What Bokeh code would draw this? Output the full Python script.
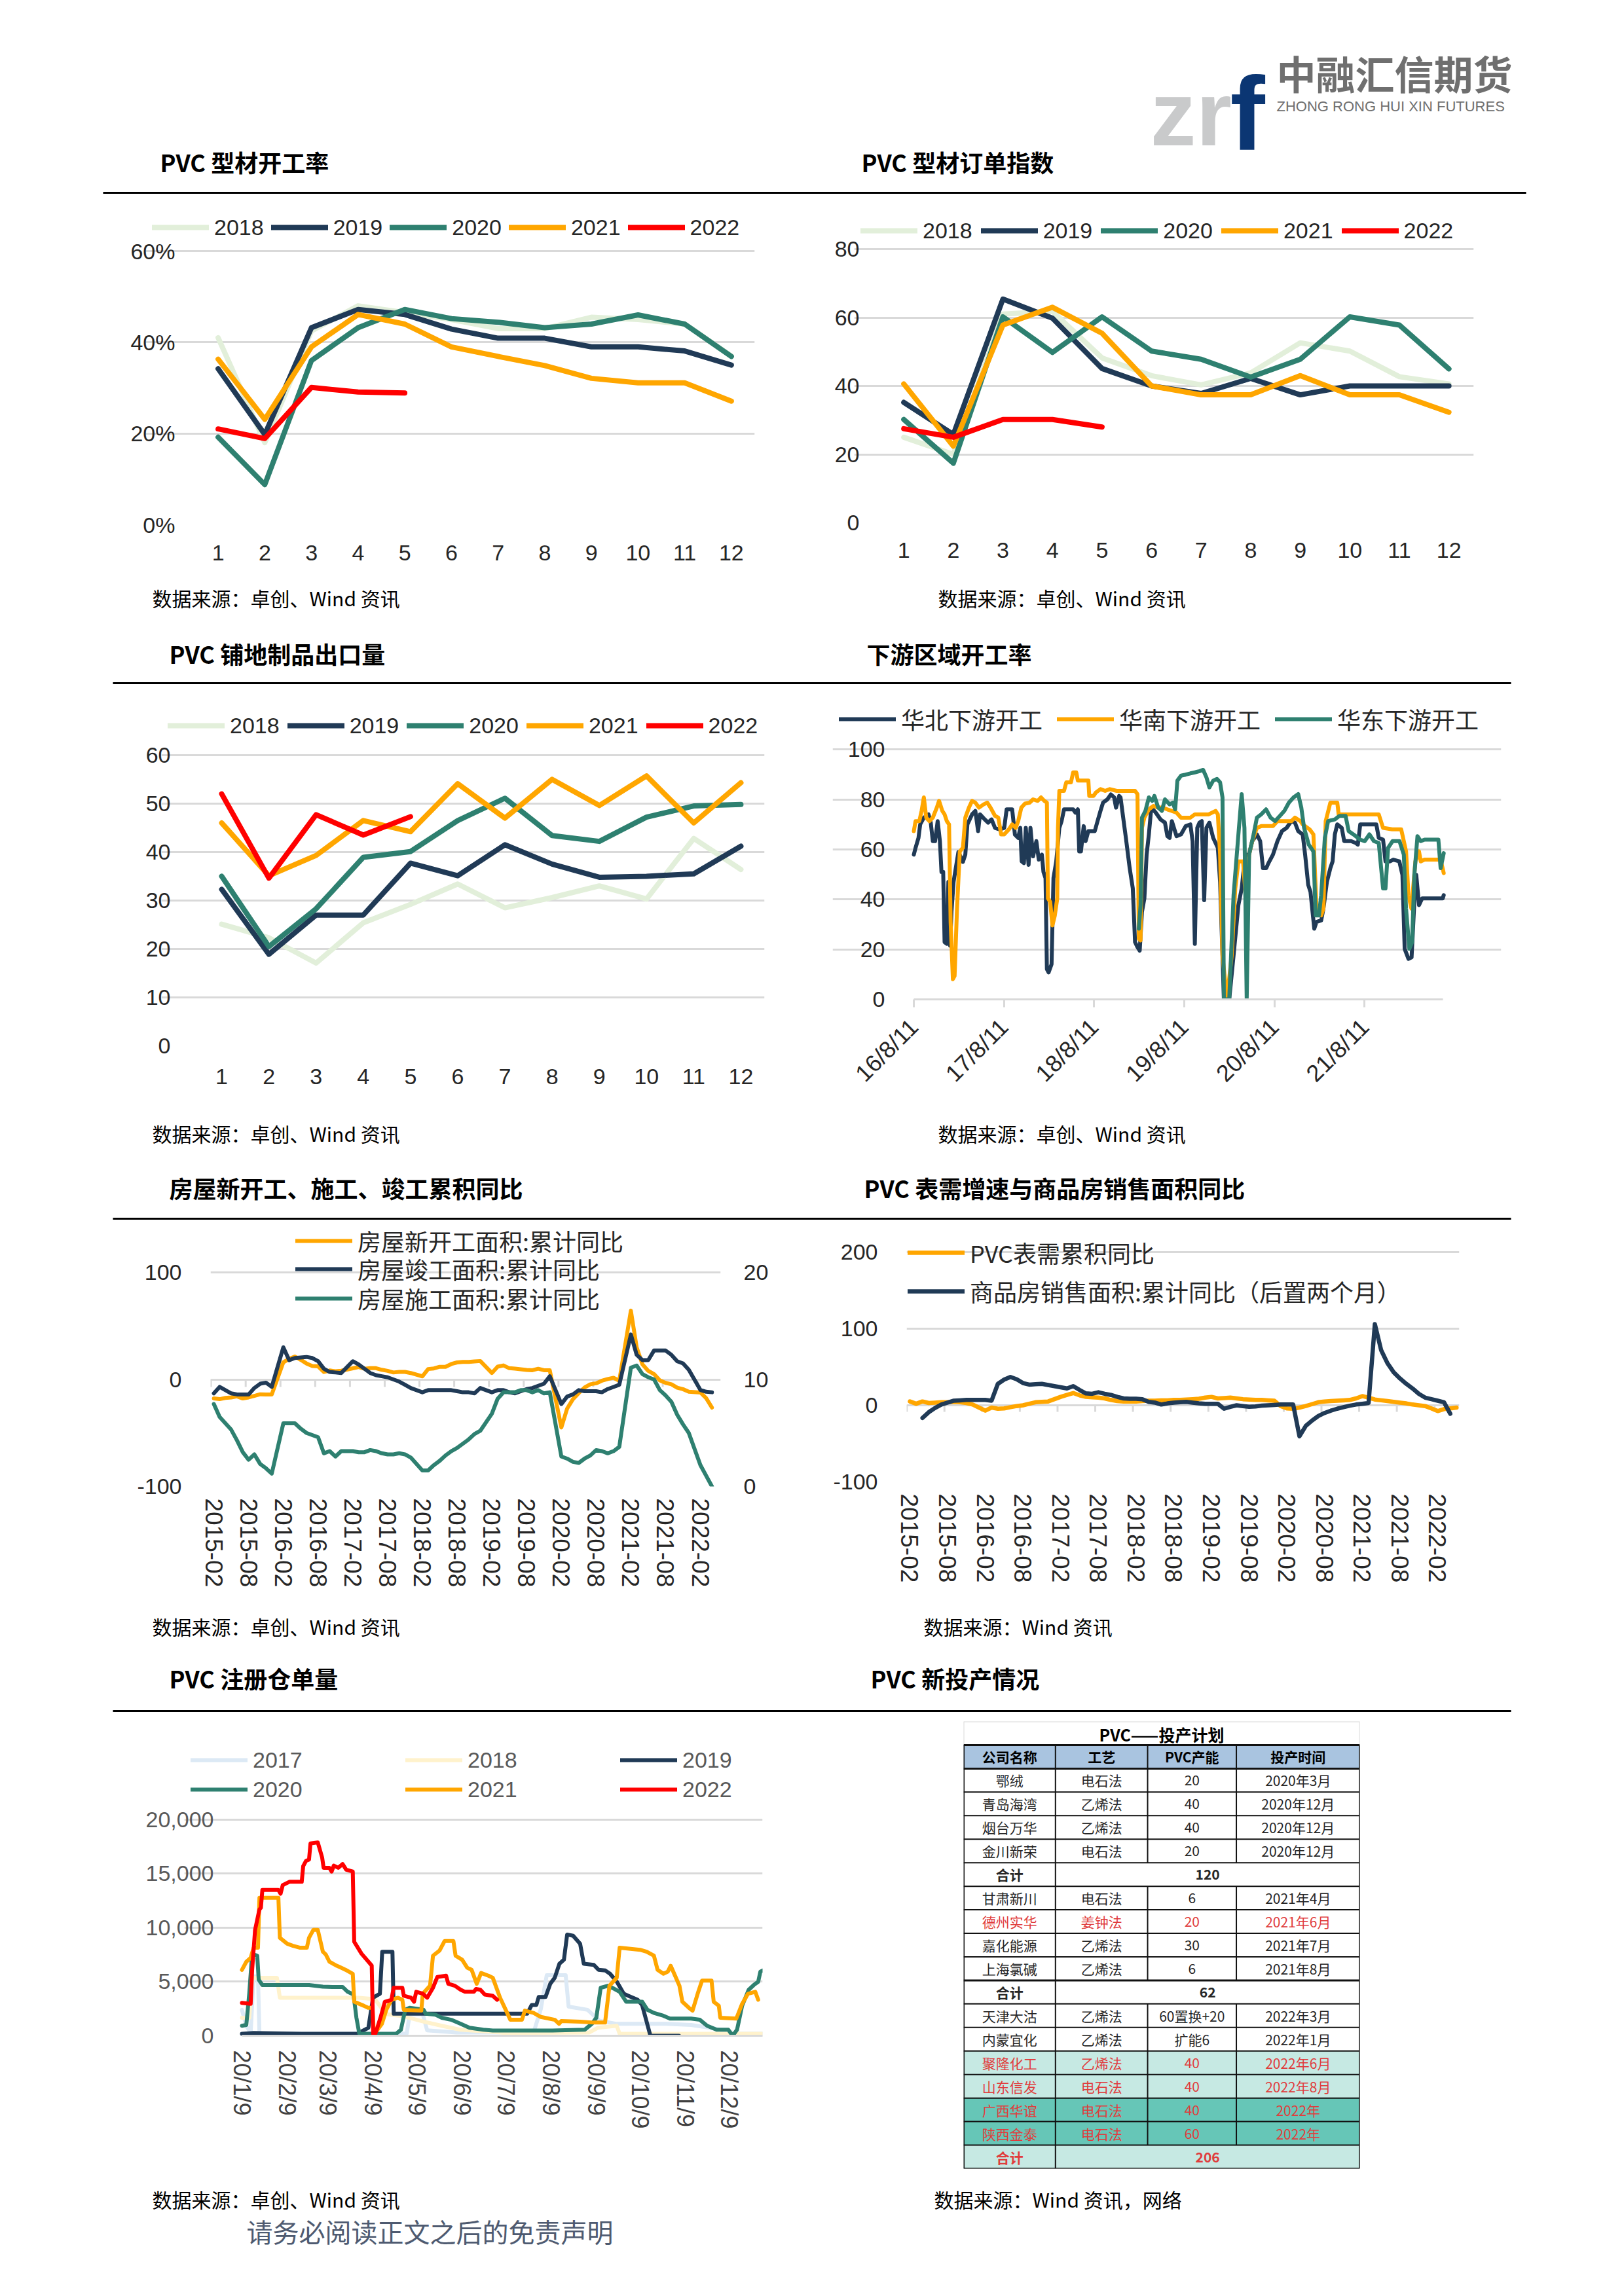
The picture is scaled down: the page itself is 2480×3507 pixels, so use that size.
import math
from bokeh.plotting import figure
from bokeh.layouts import column, row
from bokeh.models import Range1d, FixedTicker, Legend, LegendItem, LinearAxis, NumeralTickFormatter
from bokeh.core.properties import value
from bokeh.embed import file_html
from bokeh.resources import INLINE

# ---------------------------------------------------------------- data
months = list(range(1, 13))

# PVC 型材开工率 (%)
prof_2018 = [41, 18, 42.5, 48, 46.5, 45, 43, 43, 45.5, 45, 44, 37]
prof_2019 = [34.2, 19.8, 43.2, 47.2, 46.1, 42.9, 40.9, 40.9, 39, 39, 38.1, 35]
prof_2020 = [19.2, 8.8, 36, 43.2, 47.2, 45.2, 44.4, 43.2, 44, 46, 44, 36.9]
prof_2021 = [36.3, 23.1, 39, 46.1, 44, 39, 36.9, 34.9, 32.1, 31.1, 31.1, 27.1]
prof_2022 = [21, 18.9, 30.1, 29.1, 28.9]

# PVC 型材订单指数
order_2018 = [25, 20, 61, 61.8, 48.2, 43, 40.3, 43.8, 52.6, 50.2, 42.7, 40.6]
order_2019 = [35.2, 25.8, 65.4, 59.8, 45.1, 40, 37.8, 42.2, 37.4, 40, 40, 40]
order_2020 = [30.2, 17.4, 60.2, 49.8, 60.2, 50.2, 47.8, 42.6, 47.8, 60.2, 57.8, 45]
order_2021 = [40.6, 22.4, 57.8, 63, 55.4, 40, 37.4, 37.4, 43, 37.4, 37.4, 32.3]
order_2022 = [27.5, 25, 30.2, 30.2, 28]

# PVC 铺地制品出口量
floor_2018 = [25.1, 22.3, 17.1, 25.4, 29.2, 33.4, 28.5, 30.6, 33, 30.3, 42.8, 36.4]
floor_2019 = [32.3, 18.9, 27, 27, 37.7, 35.1, 41.5, 37.5, 34.8, 35, 35.5, 41.2]
floor_2020 = [35, 20.5, 28.3, 38.9, 40.1, 46.5, 51.1, 43.4, 42.2, 47.2, 49.5, 49.8]
floor_2021 = [46, 35.1, 39.3, 46.5, 44.2, 54.1, 47, 55, 49.6, 55.7, 46, 54.3]
floor_2022 = [52, 34.6, 47.7, 43.5, 47.3]

# 下游区域开工率: (weeks since 2016-08-11, value)
north_pts = [(0,57.9),(1,60.6),(2.7,64.6),(3.7,70),(5.8,72.7),(8.5,74),(9.8,70.7),(11,63.3),(12.3,63.3),(13.8,71.3),
 (15.1,63.3),(16,51),(17,51),(17.8,22.9),(19.1,22.2),(20,47),(21,21.5),(21.8,35),(23,47),(25.8,59),(28.4,55),
 (29.8,57.9),(31,70),(33.7,74),(35.6,75.4),(37.2,67.3),(38.3,74),(41,72),(43,70.7),(45,72),(47,68.6),(49.7,68),
 (52.3,68.6),(53.7,76),(56.9,76),(58.5,65.9),(60.4,64.6),(61.6,68.6),(62.4,55.2),(63.7,54.5),(64.8,68.6),(66.4,53.8),
 (67.5,68.6),(69,57.2),(70.9,63.3),(72.3,55.9),(74.1,57.9),(75,51),(76.2,48.5),(77,12.1),(78,10.8),(79.7,14.1),
 (80.8,48.5),(82.4,55.2),(84.2,68.6),(85.5,71.3),(86.9,76),(92.2,76),(93.5,74.7),(94.9,76),(95.7,59.2),(96.7,59.2),
 (98.3,69.3),(99.4,63.3),(101,67.3),(104.7,67.3),(106.3,71.3),(108,75.4),(109.5,78.7),(112,80),(114,82),(115.9,80.8),
 (117,76.7),(118.8,81.4),(119.6,80.8),(121.4,71.3),(122.7,64.6),(124.9,52.5),(126.7,44.4),(128,22.9),(129.4,20.9),
 (130.7,19.5),(132,35),(133.4,40.4),(134.7,57.9),(136,66),(137.4,76.7),(140,74.7),(142.7,72),(145.3,70.7),(146.7,65.3),
 (148,64.6),(149.3,71.3),(152,65.3),(154.6,66),(157.3,69.3),(160,70),(161.3,63.3),(162.6,22.2),(164,68.6),(165.3,70.7),
 (166.6,71.3),(168,39.7),(169.3,68.6),(171,70.7),(173.2,64.6),(175.9,60.6),(177.2,47),(179.4,0),(182.5,0),(185,17.5),
 (187.8,37.7),(189.7,44.4),(191.8,57.9),(193.9,57.9),(195.8,63.3),(198.5,66),(200.4,63.3),(202,52.5),(203.9,52.5),
 (205.2,54.5),(207.8,57.9),(210.4,63.3),(213,67.3),(215.7,68.6),(218.4,71.3),(220.5,70.7),(222.4,67.3),(225,66),
 (226.4,57.9),(228.2,45.8),(229.5,43),(231.7,28.3),(233,31),(235.7,31.6),(237,36.3),(239,47),(241,52.5),(242.3,55.2),
 (243.6,66),(245,70),(247.6,68.6),(249,63.3),(253,63.3),(255.6,62.6),(256.9,61.9),(258.3,70),(267.6,70),(269,64.6),
 (271.5,63.9),(272.9,55.2),(275.5,55.2),(277.4,55.9),(280.9,55.2),(282.7,49.8),(284,20.2),(286.2,16.2),(288,16.8),
 (289.6,39),(290.7,49.8),(292.3,37.7),(294.1,40.4),(306,40.4),(306.6,41.7)]
south_pts = [(0,67.3),(1,71.3),(3.2,71.3),(4.5,75.4),(5.8,80.8),(7.2,72.7),(9,71.3),(11,72.7),(13.3,76.7),(14.6,79.4),
 (16.5,75.4),(17.8,74),(19.1,71.3),(20.4,70),(21.3,31),(22.6,8.1),(23.6,9.4),(25,36.3),(26.6,59.2),(28.4,60.6),
 (29.8,72.7),(31.9,76.7),(33.7,79.4),(35.6,78.7),(37.7,76.7),(40.4,78),(42.5,78.7),(44.4,76.7),(47,73.4),(48.9,72.7),
 (50.5,66),(52.3,66),(55,68),(56.9,70),(59,68.6),(60.4,71.3),(62.2,76.7),(64.3,78.3),(67,78.7),(69,80),(71.7,79.4),
 (73.6,80.8),(75.5,79.4),(77,78.7),(77.6,40.4),(78.9,39),(80.2,29.6),(81.6,33.6),(83,40.4),(83.4,68.6),(84.2,83.4),
 (86.9,83.4),(88.2,86.8),(90.9,86.8),(92.2,90.8),(94,90.8),(94.9,87.5),(101,87.5),(101.5,81.4),(104,81.4),(105.4,82.8),
 (108,84.1),(110.7,83.4),(113.4,84.1),(117.4,83.4),(128,83.4),(129.4,82.1),(130.2,24.2),(131.2,23.6),(132,68.6),
 (133.4,72.7),(136,76),(138.7,77.4),(141.4,76.7),(144,76.7),(146.7,76),(149.3,75.4),(152,74.7),(154.6,72.7),(160,72.7),
 (162.6,74),(166.6,74),(170.6,74),(174.6,75.4),(175.9,74),(177.2,57.9),(178.6,17.5),(181.2,0),(183.9,17.5),(186,44.4),
 (187.8,55.2),(190.5,55.2),(192.4,37.7),(194,57.9),(195.8,63.3),(198.5,68.6),(201,69.3),(207.8,69.3),(210.4,71.3),
 (218.4,71.3),(220.5,72.7),(223.7,71.3),(225,70),(229,68),(231.2,66),(233,36.3),(235.7,33.6),(237,36.3),(238.3,71.3),
 (241,78.7),(245,78.7),(245.8,74),(250.3,74),(261,74),(269,74),(271.5,68.6),(276.8,68),(282,68),(284.8,59.2),
 (286.2,41.7),(287.9,36.3),(289.2,47),(290.2,55.2),(292.3,59.2),(293.3,55.2),(295.5,55.9),(304.8,55.9),(306.6,50.5)]
east_pts = [(130.2,28.3),(131.2,37.7),(132,72.7),(134,75.4),(136,80.8),(137.9,79.4),(139.2,81.4),(141.4,76.7),
 (143.5,75.4),(145.3,80),(148,78),(149.9,78.7),(151.2,76),(152.5,87.5),(154.6,89.5),(157.3,89.9),(160,90.4),
 (162.6,90.8),(165.3,91.3),(167.4,91.8),(169.3,88.8),(171,84.8),(173.2,87.5),(175.4,88.2),(177.2,86.8),(178.6,80.8),
 (179.4,0),(182.5,0),(185,41.7),(187.8,66),(189.7,82.1),(191.3,68.6),(192.6,0),(194,57.9),(196.6,66),(198.5,72.7),
 (201,74),(203.8,76),(206.4,72.7),(209,71.3),(211.8,73.4),(214.4,75.4),(217,78.7),(219.7,80.8),(222.4,82.1),
 (224.2,76.7),(225.8,68.6),(228.5,61.9),(231.2,59.2),(232.5,33.6),(234.4,33.6),(235.7,41.7),(237.8,64.6),(239.7,71.3),
 (243.6,72),(246.3,73.4),(249.8,73.4),(251.6,67.3),(254.3,66),(258.3,63.9),(260.9,63.3),(263.6,66),(266.2,63.3),
 (269,62.6),(271.5,44.4),(272.9,44.4),(274.4,60.6),(277,63.3),(281,63.3),(283.5,57.9),(284.8,36.3),(286.7,20.2),
 (288.3,22.9),(289.6,49.8),(291.4,65.3),(293.3,63.3),(295.5,63.9),(303.5,63.9),(304.8,52.5),(306.6,58.5)]
region_ticks = [0, 365, 730, 1095, 1461, 1826]
region_labels = ["16/8/11", "17/8/11", "18/8/11", "19/8/11", "20/8/11", "21/8/11"]

# 房屋新开工、施工、竣工累积同比 (Feb-Dec each year, 2015-02 .. 2022-04)
house_new = [-17.7,-18.4,-17.3,-16.8,-15.8,-17.8,-16.8,-15.4,-13.9,-14.0,-14.0,
             16.0,19.2,21.4,18.3,14.9,12.6,12.2,6.9,8.4,7.6,8.1,
             10.4,11.6,10.0,10.5,10.5,9.0,8.0,6.5,7.0,7.0,6.0,
             2.9,9.7,10.3,11.8,11.8,14.4,15.9,16.4,16.3,16.8,17.2,
             6.0,11.9,13.1,10.5,10.1,9.5,8.9,8.6,10.0,8.6,8.5,
             -44.9,-27.2,-18.4,-12.8,-7.6,-4.5,-3.6,-1.2,0.4,1.5,-1.2,
             64.3,30.0,14.0,8.0,5.0,-0.9,-3.2,-4.5,-7.7,-9.1,-11.4,
             -12.2,-17.5,-26.3]
house_done = [-13,-7,-10,-13,-14,-14,-14,-8,-4,-3,-7,
              30,18,20,20.5,21,20,17,10,7,6.5,6,
              17,14,10,6,4,3,2,0,-2,-5,-8,
              -12,-10,-10,-10,-10,-10,-11,-12,-12,-13,-8,
              -12,-10,-10,-12,-13,-11,-9,-8,-6,-4,3,
              -23,-16,-14,-10,-11,-11,-11,-12,-9,-7,-5,
              42,23,18,18,27,27,27,23,17,15,9,
              -9.8,-11.5,-12]
house_build = [7.7,6.5,5.9,5.3,4.3,3.2,2.5,3.0,2.1,1.7,1.2,
               5.9,5.9,5.9,5.4,5.0,4.8,4.6,3.1,3.3,2.8,3.3,
               3.3,3.2,3.2,3.4,3.3,3.1,3.0,3.0,3.1,3.0,2.7,
               1.5,1.5,2.0,2.4,2.9,3.3,3.6,4.0,4.4,4.9,5.2,
               6.8,8.2,8.8,8.8,8.8,9.0,9.0,8.8,9.0,8.7,8.8,
               2.8,2.6,2.3,2.2,2.6,2.9,3.4,3.3,3.1,3.3,3.7,
               11.1,11.3,10.5,10.2,10.0,9.0,8.5,7.9,6.7,5.8,5.0,
               2.0,1.0,0.0]
house_years = [2015, 2016, 2017, 2018, 2019, 2020, 2021, 2022]
house_last_month = 4

# PVC 表需增速 与 商品房销售面积累计同比(后置两个月), monthly from 2015-02
nan = float("nan")
pvc_demand = [5,2,5,3,3.5,4,4,4.5,4,3,1,-3,
              -7,-3,-4.5,-4,-2.5,-1,0,2,4,4.5,5,8,
              11,13.5,16,13,11,10.5,10,9,7,5.5,5,5,
              5,5.5,6,6,6.5,6.5,7,7,7.5,8,8.5,10,
              11,9,9.5,10,9,8,7.5,7,7,6.5,6,-1,
              -4,-4.5,-3,-1,1.5,4,5,5.5,6,6.5,7,9,
              12,10,7.5,6.5,5.5,4.5,3.5,2.5,1,0,-1,-4,
              -7.5,-5,-4,-3]
sales_lag = [nan,nan,-16.5,-9,-3.5,1,3.5,6,6.5,7,7,7,
             7,6,28,33.5,37,34,29,27,27.5,28,26.5,25,
             23.5,22,25,20,15.5,15,17,15,13.5,11,9,8.5,
             8.5,8,4.5,3.5,1,2.5,3.5,4,4.5,3.5,2.5,2,
             2,2,-4.5,-2,0,-1,-2,-1.5,-0.5,0,0.5,1,
             1,1,-40.5,-27,-20,-14,-10,-7,-4.5,-2.5,-0.5,1,
             2,3,106,72,55,43,35,28,22,15,10,8,
             6,4,-11,nan]
month_tick_labels = ["2015-02","2015-08","2016-02","2016-08","2017-02","2017-08","2018-02","2018-08",
                     "2019-02","2019-08","2020-02","2020-08","2021-02","2021-08","2022-02"]

# PVC 注册仓单量: (day of year, value)
wr_2017 = [(9,2400),(12,900),(15,300),(17,5500),(20,5500),(21,200),(122,200),(124,2000),(133,2000),(136,500),
           (156,300),(209,300),(214,2500),(218,5600),(231,5600),(233,2700),(246,2400),(254,1400),(266,1100),
           (300,1100),(317,1000),(332,700),(348,200),(366,200)]
wr_2018 = [(9,1670),(14,1670),(16,5370),(33,5370),(35,3520),(89,3520),(100,3400),(108,2000),(120,1800),
           (134,1300),(146,925),(159,555),(190,260),(247,300),(253,740),(266,925),(268,185),(366,185)]
wr_2019 = [(9,185),(17,260),(50,185),(88,185),(95.7,740),(98.9,3520),(103.6,3890),(105.2,7780),(112.2,7780),
           (113.1,2040),(204.6,2040),(207.7,2850),(210.9,2850),(212.5,3590),(217.2,3590),(220.4,4810),(223.5,5370),
           (226.7,6670),(229.8,7040),(232,9370),(236.1,9260),(240.9,8520),(243.4,6670),(250.3,6560),(253.5,6110),
           (258.2,6040),(261.4,5740),(266.1,5000),(270.8,3890),(274,3700),(280.3,3330),(283.4,2850),(289.1,0),(308.7,0)]
wr_2020 = [(9,925),(12,1000),(14,3890),(16,7590),(19.5,7410),(20.5,5190),(23,4700),(55,4700),(64.5,4550),
           (71,4520),(78,4520),(81.5,4070),(85.5,3820),(87.5,1670),(89.5,185),(114.7,185),(118,555),(121,2410),
           (124,2590),(133.5,2410),(135,2040),(141.5,1960),(146,1670),(152.5,1480),(159,1110),(165,740),(174.5,555),
           (181,480),(190.5,480),(222,480),(244,555),(249,1110),(252,1670),(255,4440),(260,4630),(264.5,4330),
           (268,4070),(272.5,3150),(275.5,3150),(283.5,3150),(287,2410),(291.5,2110),(298,1850),(302.5,1590),
           (317,1590),(323,1480),(328,925),(334.5,555),(342.5,555),(345.5,0),(348.5,555),(352,2780),(356.5,4260),
           (360,4700),(363,5000),(364.5,5930),(366,6040)]
wr_2021 = [(9,6100),(12,6850),(15,7220),(17,8150),(20,8150),(21,12780),(34,12780),(35,9070),(40,8520),(44,8330),
           (49,8150),(53.5,8150),(55,9070),(58,9810),(61,9810),(64.5,7780),(66.5,7520),(69,6850),(74,6480),(77,6300),
           (80,6110),(85,5740),(86,3150),(92.5,2780),(95.5,2590),(98.5,2590),(99.5,185),(102,555),(105,1110),
           (108,2410),(111.5,3330),(116,3520),(119,3330),(120,2400),(132,2330),(133,3890),(138,4630),(140,7410),
           (144.5,7890),(148,8780),(154,8780),(155.5,7410),(160,7040),(163.5,6300),(166.5,6110),(170,4810),
           (173,5810),(178,5560),(181,5370),(186,3520),(190.5,2220),(193,1480),(201,1480),(203,2330),(209,2110),
           (214,1740),(223.5,1480),(226.5,1110),(228,1370),(241,1300),(250,1220),(258,1220),(261,4630),(266,5370),
           (268,8150),(275.5,8040),(282,7960),(286.5,7780),(291.5,7410),(294,6110),(298,5740),(301,5930),(303,6480),
           (306,5560),(309,4630),(311,3150),(315.5,2590),(318,2330),(321.5,3890),(324.5,5110),(331,5110),(332.5,3150),
           (336,2780),(337,1670),(348,1590),(352,2960),(356,3890),(361,4070),(363,3330)]
wr_2022 = [(9,3040),(15,2960),(16,6100),(18,9800),(21,11700),(22,11850),(23,13500),(34,13500),(35.5,13150),
           (37,13950),(41.5,14250),(50,14250),(51,15700),(53,16200),(55,16300),(56,17800),(61,17900),(64,16500),
           (65,15550),(69,15550),(70.5,15200),(72,15750),(75,15550),(78,15900),(80.5,15370),(85,15200),(86,8700),
           (91,7600),(98,6500),(99,190),(100.5,190),(104,1670),(107,3150),(111.5,3330),(113,4440),(119,4440),
           (120,3700),(125,3520),(127,3150),(128.5,4070),(133,3900),(136,3520),(140,4440),(143,5440),(149,5560),
           (150.5,4810),(155,4630),(159,4260),(162,4070),(168,4070),(169.5,4330),(172.5,4260),(175.5,3815),
           (181,3700),(184,3330)]
wr_ticks = [9, 40, 68, 99, 129, 160, 190, 221, 252, 282, 313, 343]
wr_labels = ["20/1/9","20/2/9","20/3/9","20/4/9","20/5/9","20/6/9","20/7/9","20/8/9","20/9/9","20/10/9","20/11/9","20/12/9"]

# PVC 新投产情况 (table)
plan_title = "PVC——投产计划"
plan_header = ["公司名称", "工艺", "PVC产能", "投产时间"]
plan_company = ["鄂绒","青岛海湾","烟台万华","金川新荣","合计","甘肃新川","德州实华","嘉化能源","上海氯碱","合计",
                "天津大沽","内蒙宜化","聚隆化工","山东信发","广西华谊","陕西金泰","合计"]
plan_process = ["电石法","乙烯法","乙烯法","电石法","","电石法","姜钟法","乙烯法","乙烯法","",
                "乙烯法","乙烯法","乙烯法","电石法","电石法","电石法",""]
plan_capacity = ["20","40","40","20","120","6","20","30","6","62","60置换+20","扩能6","40","40","40","60","206"]
plan_time = ["2020年3月","2020年12月","2020年12月","2020年12月","","2021年4月","2021年6月","2021年7月","2021年8月","",
             "2022年3月","2022年1月","2022年6月","2022年8月","2022年","2022年",""]

# ---------------------------------------------------------------- style
W = 2464
FONT_CJK = "Noto Sans CJK SC"
FONT_NUM = "Liberation Sans"
GRID = "#d9d9d9"
TXT = "#262626"
C18 = "#e2efda"
C19 = "#203a56"
C20 = "#2e8070"
C21 = "#ffa600"
C22 = "#ff0000"
C17b = "#dce9f5"
C18b = "#fff2cc"

SRC1 = "数据来源：卓创、Wind 资讯"
SRC2 = "数据来源：Wind 资讯"
SRC3 = "数据来源：Wind 资讯，网络"


def band(top, bottom):
    p = figure(width=W, height=bottom - top, x_range=Range1d(8, 8 + W), y_range=Range1d(bottom, top),
               output_backend="svg", toolbar_location=None, title=None,
               x_axis_location=None, y_axis_location=None, min_border=0)
    p.outline_line_color = None
    p.grid.visible = False
    p.frame_align = False
    return p


def put_text(p, xs, ys, texts, size, color="#000000", font=FONT_CJK, style="normal", align="left", baseline="middle"):
    p.text(x=xs, y=ys, text=texts, text_font=value(font), text_font_size=size, text_color=color,
           text_font_style=style, text_baseline=baseline, text_align=align)


def rule(p, x0, x1, y):
    p.segment(x0=[x0], y0=[y], x1=[x1], y1=[y], line_color="black", line_width=3)


def style_axis(ax, size, standoff, color=TXT, font=FONT_NUM):
    ax.axis_line_color = None
    ax.major_tick_line_color = None
    ax.minor_tick_line_color = None
    ax.major_tick_in = 0
    ax.major_tick_out = 0
    ax.minor_tick_in = 0
    ax.minor_tick_out = 0
    ax.major_label_standoff = standoff
    ax.major_label_text_font = font
    ax.major_label_text_font_size = size
    ax.major_label_text_color = color


def chart(w, h, bl, br, bt, bb, xr, yr, grid_bounds=None):
    p = figure(width=w, height=h, x_range=xr, y_range=yr, output_backend="svg", toolbar_location=None,
               title=None, min_border_left=bl, min_border_right=br, min_border_top=bt, min_border_bottom=bb)
    p.frame_align = False
    p.outline_line_color = None
    p.xgrid.visible = False
    p.ygrid.grid_line_color = GRID
    p.ygrid.grid_line_width = 3
    if grid_bounds is not None:
        p.ygrid.bounds = grid_bounds
    return p


def add_legend(p, pairs, loc, size, font=FONT_NUM, color=TXT, orientation="horizontal",
               spacing=12, glyph_h=40, standoff=8):
    lg = Legend(items=[LegendItem(label=value(l), renderers=[r]) for l, r in pairs], location=loc,
                orientation=orientation, glyph_width=87, glyph_height=glyph_h, label_height=glyph_h,
                label_standoff=standoff, spacing=spacing, padding=0, margin=0,
                background_fill_alpha=0, border_line_alpha=0,
                label_text_font=font, label_text_font_size=size, label_text_color=color)
    p.add_layout(lg)


def line(p, xs, ys, color, width, **kw):
    return p.line(xs, ys, line_color=color, line_width=width, line_join="round", line_cap="round", **kw)


# ---------------------------------------------------------------- bands
bA = band(8, 305)
put_text(bA, [1764], [181], ["zr"], "140px", color="#c9cacb", font=FONT_NUM, style="bold", baseline="alphabetic")
put_text(bA, [1886], [181], ["f"], "160px", color="#0b3673", font=FONT_NUM, style="bold", baseline="alphabetic")
put_text(bA, [1957], [118], ["中融汇信期货"], "60px", color="#6f6f6f", style="bold")
put_text(bA, [1957], [170], ["ZHONG RONG HUI XIN FUTURES"], "22px", color="#6f6f6f", font=FONT_NUM)
put_text(bA, [252, 1323], [254, 254], ["PVC 型材开工率", "PVC 型材订单指数"], "36px", style="bold")
rule(bA, 165, 2338, 302)

bB = band(885, 1053)
put_text(bB, [240, 1440], [920, 920], [SRC1, SRC1], "30px")
put_text(bB, [266, 1331], [1005, 1005], ["PVC 铺地制品出口量", "下游区域开工率"], "36px", style="bold")
rule(bB, 180, 2315, 1051)

bC = band(1705, 1871)
put_text(bC, [240, 1440], [1738, 1738], [SRC1, SRC1], "30px")
put_text(bC, [266, 1327], [1821, 1821], ["房屋新开工、施工、竣工累积同比", "PVC 表需增速与商品房销售面积同比"], "36px", style="bold")
rule(bC, 180, 2315, 1869)

bD = band(2460, 2623)
put_text(bD, [240, 1418], [2491, 2491], [SRC1, SRC2], "30px")
put_text(bD, [266, 1337], [2570, 2570], ["PVC 注册仓单量", "PVC 新投产情况"], "36px", style="bold")
rule(bD, 180, 2315, 2621)

bE = band(3345, 3495)
put_text(bE, [240, 1434], [3366, 3366], [SRC1, SRC3], "30px")
put_text(bE, [384], [3415], ["请务必阅读正文之后的免责声明"], "40px", color="#4e5a70")

# ---------------------------------------------------------------- chart 1: 型材开工率  (row1 page y 305..885)
p1 = chart(1232, 580, 222, 80, 13, 76, Range1d(-0.5526, 12.5), Range1d(0, 70.48), grid_bounds=(0.5, 12.5))
p1.yaxis.ticker = FixedTicker(ticks=[0, 20, 40, 60])
p1.yaxis.major_label_overrides = {0: "0%", 20: "20%", 40: "40%", 60: "60%"}
p1.xaxis.ticker = FixedTicker(ticks=months)
style_axis(p1.yaxis[0], "34px", -45)
style_axis(p1.xaxis[0], "34px", 31)
pairs = []
for lab, vals, col in [("2018", prof_2018, C18), ("2019", prof_2019, C19), ("2020", prof_2020, C20),
                       ("2021", prof_2021, C21), ("2022", prof_2022, C22)]:
    pairs.append((lab, line(p1, months[:len(vals)], vals, col, 8)))
add_legend(p1, pairs, (10, 434), "34px", spacing=11)

# ---------------------------------------------------------------- chart 2: 型材订单指数
p2 = chart(1232, 580, 72, 214, 13, 79, Range1d(0.0, 12.5), Range1d(0, 93.4), grid_bounds=(0.5, 12.5))
p2.yaxis.ticker = FixedTicker(ticks=[0, 20, 40, 60, 80])
p2.xaxis.ticker = FixedTicker(ticks=months)
style_axis(p2.yaxis[0], "34px", -8)
style_axis(p2.xaxis[0], "34px", 30)
pairs = []
for lab, vals, col in [("2018", order_2018, C18), ("2019", order_2019, C19), ("2020", order_2020, C20),
                       ("2021", order_2021, C21), ("2022", order_2022, C22)]:
    pairs.append((lab, line(p2, months[:len(vals)], vals, col, 8)))
add_legend(p2, pairs, (10, 426), "34px", spacing=13)

# ---------------------------------------------------------------- chart 3: 铺地制品出口量 (row2 page y 1053..1705)
p3 = chart(1232, 652, 246, 65, 22, 100, Range1d(-0.277, 12.5), Range1d(0, 71.6), grid_bounds=(0.5, 12.5))
p3.yaxis.ticker = FixedTicker(ticks=[0, 10, 20, 30, 40, 50, 60])
p3.xaxis.ticker = FixedTicker(ticks=months)
style_axis(p3.yaxis[0], "34px", -14)
style_axis(p3.xaxis[0], "34px", 35)
pairs = []
for lab, vals, col in [("2018", floor_2018, C18), ("2019", floor_2019, C19), ("2020", floor_2020, C20),
                       ("2021", floor_2021, C21), ("2022", floor_2022, C22)]:
    pairs.append((lab, line(p3, months[:len(vals)], vals, col, 8)))
add_legend(p3, pairs, (10, 469), "34px", spacing=12)

# ---------------------------------------------------------------- chart 4: 下游区域开工率
p4 = chart(1232, 652, 39, 172, 22, 171, Range1d(-328.8, 2379), Range1d(0, 120.2), grid_bounds=(0, 2143))
p4.yaxis.ticker = FixedTicker(ticks=[0, 20, 40, 60, 80, 100])
p4.xaxis.ticker = FixedTicker(ticks=region_ticks)
p4.xaxis.major_label_overrides = dict(zip(region_ticks, region_labels))
style_axis(p4.yaxis[0], "34px", -80)
style_axis(p4.xaxis[0], "36px", 24)
p4.xaxis.bounds = (0, 2143)
p4.xaxis.axis_line_color = GRID
p4.xaxis.axis_line_width = 3
p4.xaxis.major_tick_line_color = GRID
p4.xaxis.major_tick_line_width = 3
p4.xaxis.major_tick_out = 12
p4.xaxis.major_label_orientation = math.pi / 4
pairs = []
for lab, pts, col in [("华北下游开工", north_pts, C19), ("华南下游开工", south_pts, C21), ("华东下游开工", east_pts, C20)]:
    xs = [w * 7 for w, v in pts]
    ys = [v for w, v in pts]
    pairs.append((lab, line(p4, xs, ys, col, 6)))
add_legend(p4, pairs, (10, 402), "36px", font=FONT_CJK, spacing=22)

# ---------------------------------------------------------------- chart 5: 房屋 新开工/竣工/施工 (row3 page y 1871..2460)
house_x = []
for y in house_years:
    last = house_last_month if y == house_years[-1] else 12
    for m in range(2, last + 1):
        house_x.append((y - 2015) * 12 + (m - 2))
tick_idx = list(range(0, 85, 6))
p5 = chart(1232, 589, 321, 132, 0, 182, Range1d(-0.57, 87.5), Range1d(-100, 148.93))
p5.extra_y_ranges = {"r": Range1d(0, 24.893)}
p5.yaxis.ticker = FixedTicker(ticks=[-100, 0, 100])
p5.yaxis.major_label_overrides = {-100: "-100", 0: "0", 100: "100"}
ax_r = LinearAxis(y_range_name="r", ticker=FixedTicker(ticks=[0, 10, 20]))
p5.add_layout(ax_r, "right")
style_axis(p5.yaxis[0], "34px", 44)
style_axis(ax_r, "34px", 35)
p5.xaxis.ticker = FixedTicker(ticks=tick_idx)
p5.xaxis.major_label_overrides = dict(zip(tick_idx, month_tick_labels))
style_axis(p5.xaxis[0], "37px", 18)
p5.xaxis.major_label_orientation = "vertical"
tick_marks = [t - 0.5 for t in tick_idx]
p5.segment(x0=tick_marks, y0=[0] * len(tick_marks), x1=tick_marks, y1=[-7] * len(tick_marks),
           line_color=GRID, line_width=3)
r_new = line(p5, house_x, house_new, C21, 6)
r_done = line(p5, house_x, house_done, C19, 6)
r_build = line(p5, house_x, house_build, C20, 6, y_range_name="r")
add_legend(p5, [("房屋新开工面积:累计同比", r_new)], (130, 349), "36px", font=FONT_CJK, orientation="vertical")
add_legend(p5, [("房屋竣工面积:累计同比", r_done)], (130, 306), "36px", font=FONT_CJK, orientation="vertical")
add_legend(p5, [("房屋施工面积:累计同比", r_build)], (130, 261), "36px", font=FONT_CJK, orientation="vertical")

# ---------------------------------------------------------------- chart 6: PVC表需 vs 商品房销售
demand_x = list(range(len(pvc_demand)))
p6 = chart(1232, 589, 152, 236, 0, 189, Range1d(-0.52, 87.44), Range1d(-100, 241.88))
p6.yaxis.ticker = FixedTicker(ticks=[-100, 0, 100, 200])
p6.yaxis.major_label_overrides = {-100: "-100", 0: "0", 100: "100", 200: "200"}
style_axis(p6.yaxis[0], "34px", 44)
p6.xaxis.ticker = FixedTicker(ticks=tick_idx)
p6.xaxis.major_label_overrides = dict(zip(tick_idx, month_tick_labels))
style_axis(p6.xaxis[0], "37px", 18)
p6.xaxis.major_label_orientation = "vertical"
p6.segment(x0=tick_marks, y0=[0] * len(tick_marks), x1=tick_marks, y1=[-8.5] * len(tick_marks),
           line_color=GRID, line_width=3)
r_dem = line(p6, demand_x, pvc_demand, C21, 6.5)
r_sal = line(p6, demand_x, sales_lag, C19, 6.5)
add_legend(p6, [("PVC表需累积同比", r_dem), ("商品房销售面积:累计同比（后置两个月）", r_sal)],
           (2, 265), "36px", font=FONT_CJK, orientation="vertical", spacing=7)

# ---------------------------------------------------------------- chart 7: 注册仓单量 (row4 page y 2623..3345)
p7 = chart(1232, 722, 281, 68, 27, 228, Range1d(-30.5, 366), Range1d(0, 28303), grid_bounds=(9, 366))
p7.yaxis.ticker = FixedTicker(ticks=[0, 5000, 10000, 15000, 20000])
p7.yaxis.formatter = NumeralTickFormatter(format="0,0")
style_axis(p7.yaxis[0], "34px", -45, color="#595959")
p7.xaxis.ticker = FixedTicker(ticks=wr_ticks)
p7.xaxis.major_label_overrides = dict(zip(wr_ticks, wr_labels))
style_axis(p7.xaxis[0], "36px", 22, color="#404040")
p7.xaxis.bounds = (9, 366)
p7.xaxis.axis_line_color = GRID
p7.xaxis.axis_line_width = 3
p7.xaxis.major_label_orientation = "vertical"
rr = {}
for lab, pts, col in [("2017", wr_2017, C17b), ("2018", wr_2018, C18b), ("2019", wr_2019, C19),
                      ("2020", wr_2020, C20), ("2021", wr_2021, C21), ("2022", wr_2022, C22)]:
    rr[lab] = line(p7, [d for d, v in pts], [v for d, v in pts], col, 6)
add_legend(p7, [("2017", rr["2017"]), ("2020", rr["2020"])], (10, 356), "34px", color="#595959",
           orientation="vertical", spacing=5)
add_legend(p7, [("2018", rr["2018"]), ("2021", rr["2021"])], (338, 356), "34px", color="#595959",
           orientation="vertical", spacing=5)
add_legend(p7, [("2019", rr["2019"]), ("2022", rr["2022"])], (666, 356), "34px", color="#595959",
           orientation="vertical", spacing=5)

# ---------------------------------------------------------------- table: 新投产情况
pt = figure(width=1232, height=722, x_range=Range1d(0, 1), y_range=Range1d(19, 0), output_backend="svg",
            toolbar_location=None, title=None, x_axis_location=None, y_axis_location=None,
            min_border_left=239, min_border_right=388, min_border_top=14, min_border_bottom=25)
pt.frame_align = False
pt.outline_line_color = None
pt.grid.visible = False
edges = [0, 0.2319, 0.4645, 0.6885, 1.0]
centers = [(edges[i] + edges[i + 1]) / 2 for i in range(4)]
n = len(plan_company)
subtotal = [c == "合计" for c in plan_company]
red_rows = {6, 12, 13, 14, 15, 16}
fills = []
for i in range(n):
    if i in (14, 15):
        fills.append("#66c6b7")
    elif i in (12, 13, 16):
        fills.append("#c6e9e3")
    else:
        fills.append("#ffffff")
pt.quad(left=[0], right=[1], top=[1], bottom=[2], fill_color="#a9c4e0", line_color=None)
pt.quad(left=[0] * n, right=[1] * n, top=[i + 2 for i in range(n)], bottom=[i + 3 for i in range(n)],
        fill_color=fills, line_color=None)
pt.segment(x0=[0, 0, 1], y0=[0, 0, 0], x1=[1, 0, 1], y1=[0, 1, 1], line_color="#d9d9d9", line_width=2)
hy = list(range(1, n + 3))
hw = [3 if y in (1, 2, 11, n + 2) else 2 for y in hy]
pt.segment(x0=[0] * len(hy), y0=hy, x1=[1] * len(hy), y1=hy, line_color="#111111", line_width=hw)
vx0, vy0, vy1 = [], [], []
for r in range(1, n + 2):
    is_sub = r >= 2 and subtotal[r - 2]
    for e in (edges[1:4] if not is_sub else [edges[1]]):
        vx0.append(e)
        vy0.append(r)
        vy1.append(r + 1)
pt.segment(x0=vx0, y0=vy0, x1=vx0, y1=vy1, line_color="#111111", line_width=2)
pt.segment(x0=[0, 1], y0=[1, 1], x1=[0, 1], y1=[n + 2, n + 2], line_color="#111111", line_width=3)
put_text(pt, [0.5], [0.55], [plan_title], "25px", color="#000000", style="bold", align="center")
put_text(pt, centers, [1.5] * 4, plan_header, "21px", color="#000000", style="bold", align="center")
bx, by, bt_, bc, bs = [], [], [], [], []
for i in range(n):
    col = "#e03c3c" if i in red_rows else "#262626"
    if subtotal[i]:
        cells = [(centers[0], plan_company[i]), ((edges[1] + 1) / 2, plan_capacity[i])]
        style = "bold"
    else:
        cells = [(centers[0], plan_company[i]), (centers[1], plan_process[i]),
                 (centers[2], plan_capacity[i]), (centers[3], plan_time[i])]
        style = "normal"
    for cx, t in cells:
        bx.append(cx)
        by.append(i + 2.5)
        bt_.append(t)
        bc.append(col)
        bs.append(style)
pt.text(x=bx, y=by, text=bt_, text_color=bc, text_font_style=bs, text_font=value(FONT_CJK),
        text_font_size="21px", text_align="center", text_baseline="middle")

# ---------------------------------------------------------------- layout
layout = column(bA, row(p1, p2), bB, row(p3, p4), bC, row(p5, p6), bD, row(p7, pt), bE)
open("out.html", "w").write(file_html(layout, INLINE))
